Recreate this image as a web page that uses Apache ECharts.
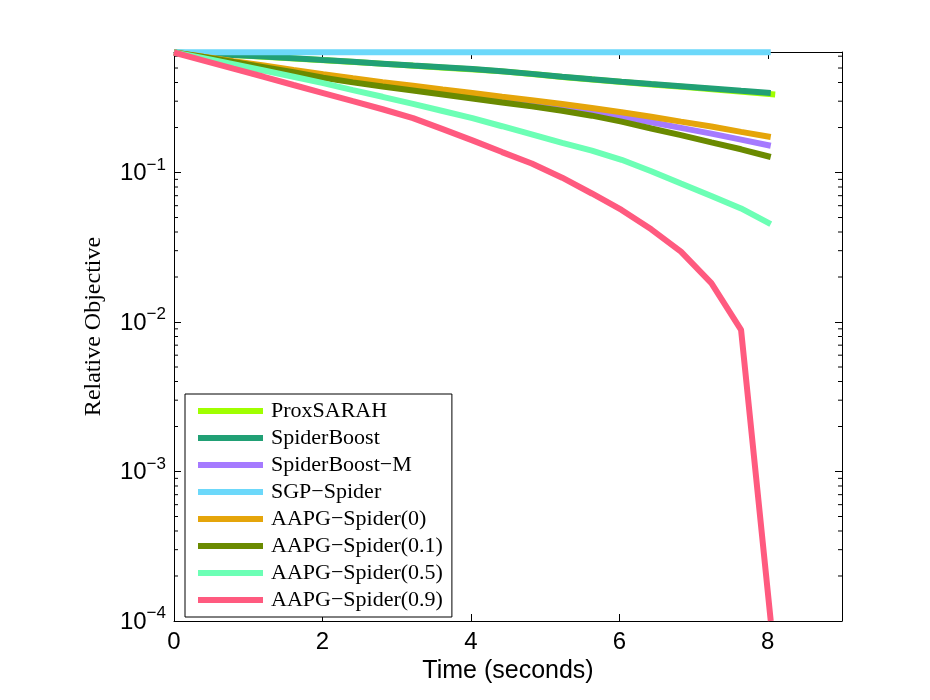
<!DOCTYPE html>
<html lang="en">
<head>
  <meta charset="UTF-8">
  <title>Relative Objective vs Time</title>
  <style>
    html, body { margin: 0; padding: 0; background: #fff; }
    #chart { width: 930px; height: 700px; }
  </style>
  <script src="https://cdn.jsdelivr.net/npm/echarts@6/dist/echarts.min.js"></script>
</head>
<body>
  <div id="chart"></div>
<script>
  // time stamps (seconds), one point per epoch
  var times = [0, 0.40, 0.80, 1.21, 1.61, 2.01, 2.41, 2.81, 3.22, 3.62, 4.02, 4.42, 4.82, 5.23, 5.63, 6.03, 6.43, 6.83, 7.24, 7.64, 8.04];
  var proxTimes = [0, 0.41, 0.81, 1.22, 1.62, 2.03, 2.43, 2.84, 3.24, 3.65, 4.05, 4.46, 4.86, 5.27, 5.67, 6.08, 6.48, 6.89, 7.29, 7.70, 8.10];

  // relative objective per method
  var proxSarah   = [0.635, 0.623, 0.610, 0.595, 0.580, 0.564, 0.549, 0.533, 0.517, 0.503, 0.489, 0.473, 0.454, 0.434, 0.417, 0.401, 0.387, 0.373, 0.359, 0.345, 0.332];
  var spiderBoost = [0.635, 0.624, 0.611, 0.597, 0.582, 0.566, 0.551, 0.535, 0.519, 0.506, 0.492, 0.476, 0.457, 0.437, 0.420, 0.405, 0.391, 0.378, 0.365, 0.352, 0.340];
  var spiderBoostM = [0.635, 0.593, 0.552, 0.513, 0.476, 0.442, 0.413, 0.389, 0.367, 0.346, 0.326, 0.308, 0.290, 0.273, 0.255, 0.236, 0.217, 0.199, 0.182, 0.166, 0.151];
  var sgpSpider   = [0.638, 0.638, 0.638, 0.638, 0.638, 0.638, 0.638, 0.638, 0.638, 0.638, 0.638, 0.638, 0.638, 0.638, 0.638, 0.638, 0.638, 0.638, 0.638, 0.638, 0.638];
  var aapg0       = [0.635, 0.594, 0.556, 0.520, 0.486, 0.455, 0.427, 0.402, 0.380, 0.359, 0.340, 0.321, 0.304, 0.287, 0.270, 0.253, 0.236, 0.219, 0.203, 0.187, 0.173];
  var aapg01      = [0.635, 0.592, 0.550, 0.507, 0.468, 0.430, 0.401, 0.376, 0.354, 0.333, 0.313, 0.294, 0.277, 0.259, 0.240, 0.219, 0.197, 0.178, 0.159, 0.143, 0.127];
  var aapg05      = [0.635, 0.581, 0.530, 0.481, 0.437, 0.396, 0.356, 0.321, 0.288, 0.258, 0.231, 0.204, 0.180, 0.158, 0.140, 0.1216, 0.102, 0.0845, 0.0697, 0.0575, 0.0452];
  var aapg09      = [0.635, 0.561, 0.495, 0.437, 0.385, 0.340, 0.300, 0.265, 0.231, 0.195, 0.164, 0.137, 0.115, 0.0923, 0.0724, 0.0562, 0.0417, 0.0296, 0.0182, 0.00887, 0.0001];

  // minor log ticks
  var minorTicks = [2e-4, 3e-4, 4e-4, 5e-4, 6e-4, 7e-4, 8e-4, 9e-4,
                    2e-3, 3e-3, 4e-3, 5e-3, 6e-3, 7e-3, 8e-3, 9e-3,
                    2e-2, 3e-2, 4e-2, 5e-2, 6e-2, 7e-2, 8e-2, 9e-2,
                    0.2, 0.3, 0.4, 0.5, 0.6];

  var names = ['ProxSARAH', 'SpiderBoost', 'SpiderBoost\u2212M', 'SGP\u2212Spider',
               'AAPG\u2212Spider(0)', 'AAPG\u2212Spider(0.1)', 'AAPG\u2212Spider(0.5)', 'AAPG\u2212Spider(0.9)'];
  var colors = ['#a0ff00', '#21a075', '#a57aff', '#6cd8fa', '#e5a50a', '#6a8a00', '#6cffb5', '#ff5a7f'];
  var values = [proxSarah, spiderBoost, spiderBoostM, sgpSpider, aapg0, aapg01, aapg05, aapg09];

  function pairs(xs, ys) {
    return ys.map(function (y, i) { return [xs[i], y]; });
  }

  var series = names.map(function (n, k) {
    return {
      name: n,
      type: 'line',
      data: pairs(k === 0 ? proxTimes : times, values[k]),
      showSymbol: false,
      lineStyle: { width: 6, color: colors[k] },
      itemStyle: { color: colors[k] },
      emphasis: { disabled: true },
      clip: true
    };
  });

  // minor ticks on left and right sides of the box
  series.push({
    type: 'custom',
    silent: true,
    data: minorTicks.map(function (v) { return [0, v]; }),
    renderItem: function (params, api) {
      var p0 = api.coord([0, api.value(1)]);
      var p1 = api.coord([9, api.value(1)]);
      return {
        type: 'group',
        children: [
          { type: 'line', shape: { x1: p0[0], y1: p0[1], x2: p0[0] + 4, y2: p0[1] }, style: { stroke: '#000', lineWidth: 1 } },
          { type: 'line', shape: { x1: p1[0] - 4, y1: p1[1], x2: p1[0], y2: p1[1] }, style: { stroke: '#000', lineWidth: 1 } }
        ]
      };
    }
  });

  var tickFont = { fontFamily: 'Liberation Sans', fontSize: 24, color: '#000' };

  function logLabel(v) {
    var e = Math.round(Math.log10(v));
    return '{b|10}{e|' + (e < 0 ? '\u2212' + (-e) : e) + '}';
  }

  var option = {
    animation: false,
    backgroundColor: '#fff',
    grid: { left: 174, top: 52, right: 88, bottom: 79 },
    legend: {
      data: names,
      orient: 'vertical',
      left: 185,
      top: 394,
      padding: [6, 9, 6, 13],
      itemGap: 5,
      itemWidth: 65,
      itemHeight: 6,
      icon: 'rect',
      borderColor: '#000',
      borderWidth: 1,
      backgroundColor: '#fff',
      itemStyle: { borderWidth: 0 },
      textStyle: { fontFamily: 'Liberation Serif', fontSize: 22, color: '#000', lineHeight: 21, padding: [0, 0, 0, 3] },
      selectedMode: false
    },
    xAxis: [
      {
        type: 'value', min: 0, max: 9, interval: 2,
        name: 'Time (seconds)', nameLocation: 'middle', nameGap: 38,
        nameTextStyle: { fontFamily: 'Liberation Sans', fontSize: 25, color: '#000' },
        axisLine: { show: true, onZero: false, lineStyle: { color: '#000', width: 1 } },
        axisTick: { inside: true, length: 7, lineStyle: { color: '#000' } },
        axisLabel: Object.assign({ margin: 9, showMaxLabel: false }, tickFont),
        splitLine: { show: false }
      },
      {
        type: 'value', min: 0, max: 9, interval: 2, position: 'top',
        axisLine: { show: true, onZero: false, lineStyle: { color: '#000', width: 1 } },
        axisTick: { inside: true, length: 7, lineStyle: { color: '#000' } },
        axisLabel: { show: false },
        splitLine: { show: false }
      }
    ],
    yAxis: [
      {
        type: 'log', logBase: 10, min: 1e-4, max: 0.64,
        name: 'Relative Objective', nameLocation: 'middle', nameGap: 68,
        nameTextStyle: { fontFamily: 'Liberation Serif', fontSize: 24, color: '#000', padding: [0, 0, 0, 20] },
        axisLine: { show: true, onZero: false, lineStyle: { color: '#000', width: 1 } },
        axisTick: { inside: true, length: 7, lineStyle: { color: '#000' } },
        axisLabel: {
          margin: 8,
          showMaxLabel: false,
          formatter: logLabel,
          rich: {
            b: { fontFamily: 'Liberation Sans', fontSize: 24, lineHeight: 26, color: '#000', verticalAlign: 'bottom' },
            e: { fontFamily: 'Liberation Sans', fontSize: 17, lineHeight: 17, color: '#000', verticalAlign: 'bottom', padding: [0, 0, 12, 0] }
          }
        },
        splitLine: { show: false }
      },
      {
        type: 'log', logBase: 10, min: 1e-4, max: 0.64, position: 'right',
        axisLine: { show: true, onZero: false, lineStyle: { color: '#000', width: 1 } },
        axisTick: { inside: true, length: 7, lineStyle: { color: '#000' } },
        axisLabel: { show: false },
        splitLine: { show: false }
      }
    ],
    series: series
  };

  var myChart = echarts.init(document.getElementById('chart'));
  myChart.setOption(option);
</script>
</body>
</html>
